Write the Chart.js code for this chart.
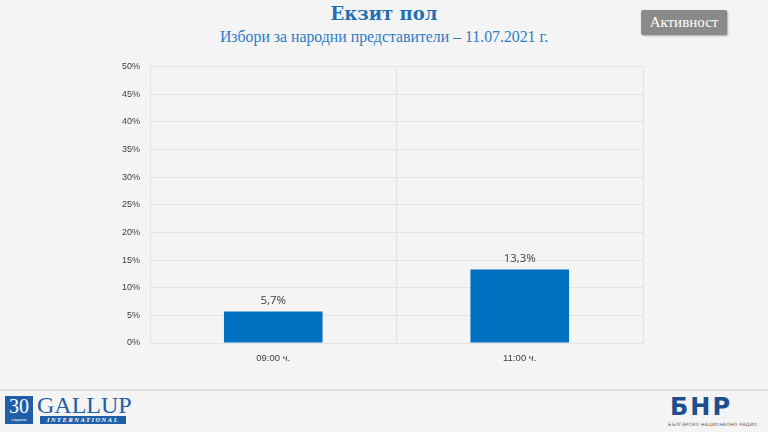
<!DOCTYPE html>
<html>
<head>
<meta charset="utf-8">
<script src="https://cdn.jsdelivr.net/npm/chart.js@4.4.0/dist/chart.umd.min.js"></script>
<style>
  body { margin: 0; width: 768px; height: 432px; background: #f4f4f4; overflow: hidden; position: relative; font-family: "Open Sans", sans-serif; }
  #title { position: absolute; left: 0; width: 768px; top: 3px; text-align: center; font-family: "DejaVu Serif", serif; font-weight: bold; font-size: 18px; color: #1F6FB8; }
  #subtitle { position: absolute; left: 0; width: 768px; top: 28px; text-align: center; font-family: "Liberation Serif", serif; font-size: 15.8px; color: #2E7BC6; }
  #btn { position: absolute; left: 641px; top: 10px; width: 86px; height: 25px; background: #8a8a8a; color: #fff; font-family: "Liberation Serif", serif; font-size: 15px; line-height: 25px; text-align: center; border-radius: 2px; box-shadow: 1px 1px 2px #aaa; }
  #wrap { position: absolute; left: 110px; top: 51px; width: 540px; height: 317px; }
  #sep { position: absolute; left: 0; top: 389px; width: 768px; height: 2px; background: #dedede; }
  #g30 { position: absolute; left: 5px; top: 396px; width: 28px; height: 28px; background: #1F5FA8; color: #fff; font-family: "Liberation Serif", serif; font-size: 20px; line-height: 21px; text-align: center; }
  #g30 span { display: block; font-size: 5px; line-height: 6px; }
  #gallup { position: absolute; left: 37px; top: 392px; font-family: "Liberation Serif", serif; font-size: 24px; color: #1F5FA8; }
  #intl { position: absolute; left: 40px; top: 416px; width: 86px; height: 8px; background: #1F5FA8; color: #fff; font-family: "Liberation Serif", serif; font-size: 6.5px; line-height: 8px; text-align: center; letter-spacing: 1.5px; font-style: italic; font-weight: bold; }
  #bnr { position: absolute; left: 670px; top: 393px; font-family: "DejaVu Sans", sans-serif; font-size: 24px; font-weight: bold; color: #1E4E8C; letter-spacing: 2px; }
  #bnrsub { position: absolute; left: 668px; top: 422px; font-family: "DejaVu Sans", sans-serif; font-size: 4.5px; color: #555; letter-spacing: 0.3px; }
</style>
</head>
<body>
<div id="title">Екзит пол</div>
<div id="subtitle">Избори за народни представители – 11.07.2021 г.</div>
<div id="btn">Активност</div>
<div id="wrap"><canvas id="chart1"></canvas></div>
<div id="sep"></div>
<div id="g30">30<span>години</span></div>
<div id="gallup">GALLUP</div>
<div id="intl">INTERNATIONAL</div>
<div id="bnr">БНР</div>
<div id="bnrsub">БЪЛГАРСКО НАЦИОНАЛНО РАДИО</div>
<script>
//data
const labels = ['09:00 ч.', '11:00 ч.']
const turnout = [5.7, 13.3]
const yTicks = [0, 5, 10, 15, 20, 25, 30, 35, 40, 45, 50]

//value labels above bars
const valueLabels = {
    id: 'valueLabels',
    afterDatasetsDraw(chart) {
        const ctx = chart.ctx
        const meta = chart.getDatasetMeta(0)
        ctx.save()
        ctx.font = '11.5px "Open Sans", sans-serif'
        ctx.fillStyle = '#404040'
        ctx.textAlign = 'center'
        ctx.textBaseline = 'bottom'
        meta.data.forEach((bar, i) => {
            ctx.fillText(turnout[i].toFixed(1).replace('.', ',') + '%', bar.x, bar.y - 5)
        })
        ctx.restore()
    }
}

const config = {
    type: 'bar',
    data: {
        labels: labels,
        datasets: [{
            data: turnout,
            backgroundColor: '#0070C0',
            borderWidth: 0,
            barPercentage: 0.4,
            categoryPercentage: 1
        }]
    },
    plugins: [valueLabels],
    options: {
        responsive: true,
        maintainAspectRatio: false,
        animation: false,
        layout: { padding: { top: 6, right: 7 } },
        plugins: { legend: { display: false }, tooltip: { enabled: false } },
        scales: {
            x: {
                grid: { color: '#e3e3e3', drawTicks: false },
                border: { color: '#e3e3e3' },
                ticks: { color: '#404040', font: { size: 9.5 }, padding: 10 },
                afterFit: function(scale) { scale.height = 25 }
            },
            y: {
                min: 0,
                max: 50,
                afterBuildTicks: function(scale) { scale.ticks = yTicks.map(v => ({ value: v })) },
                grid: { color: '#e3e3e3', drawTicks: false },
                border: { display: false },
                ticks: { color: '#404040', font: { size: 9 }, padding: 10, callback: v => v + '%' },
                afterFit: function(scale) { scale.width = 40 }
            }
        }
    }
}

const Chart1 = new Chart(document.getElementById('chart1'), config)
</script>
</body>
</html>
